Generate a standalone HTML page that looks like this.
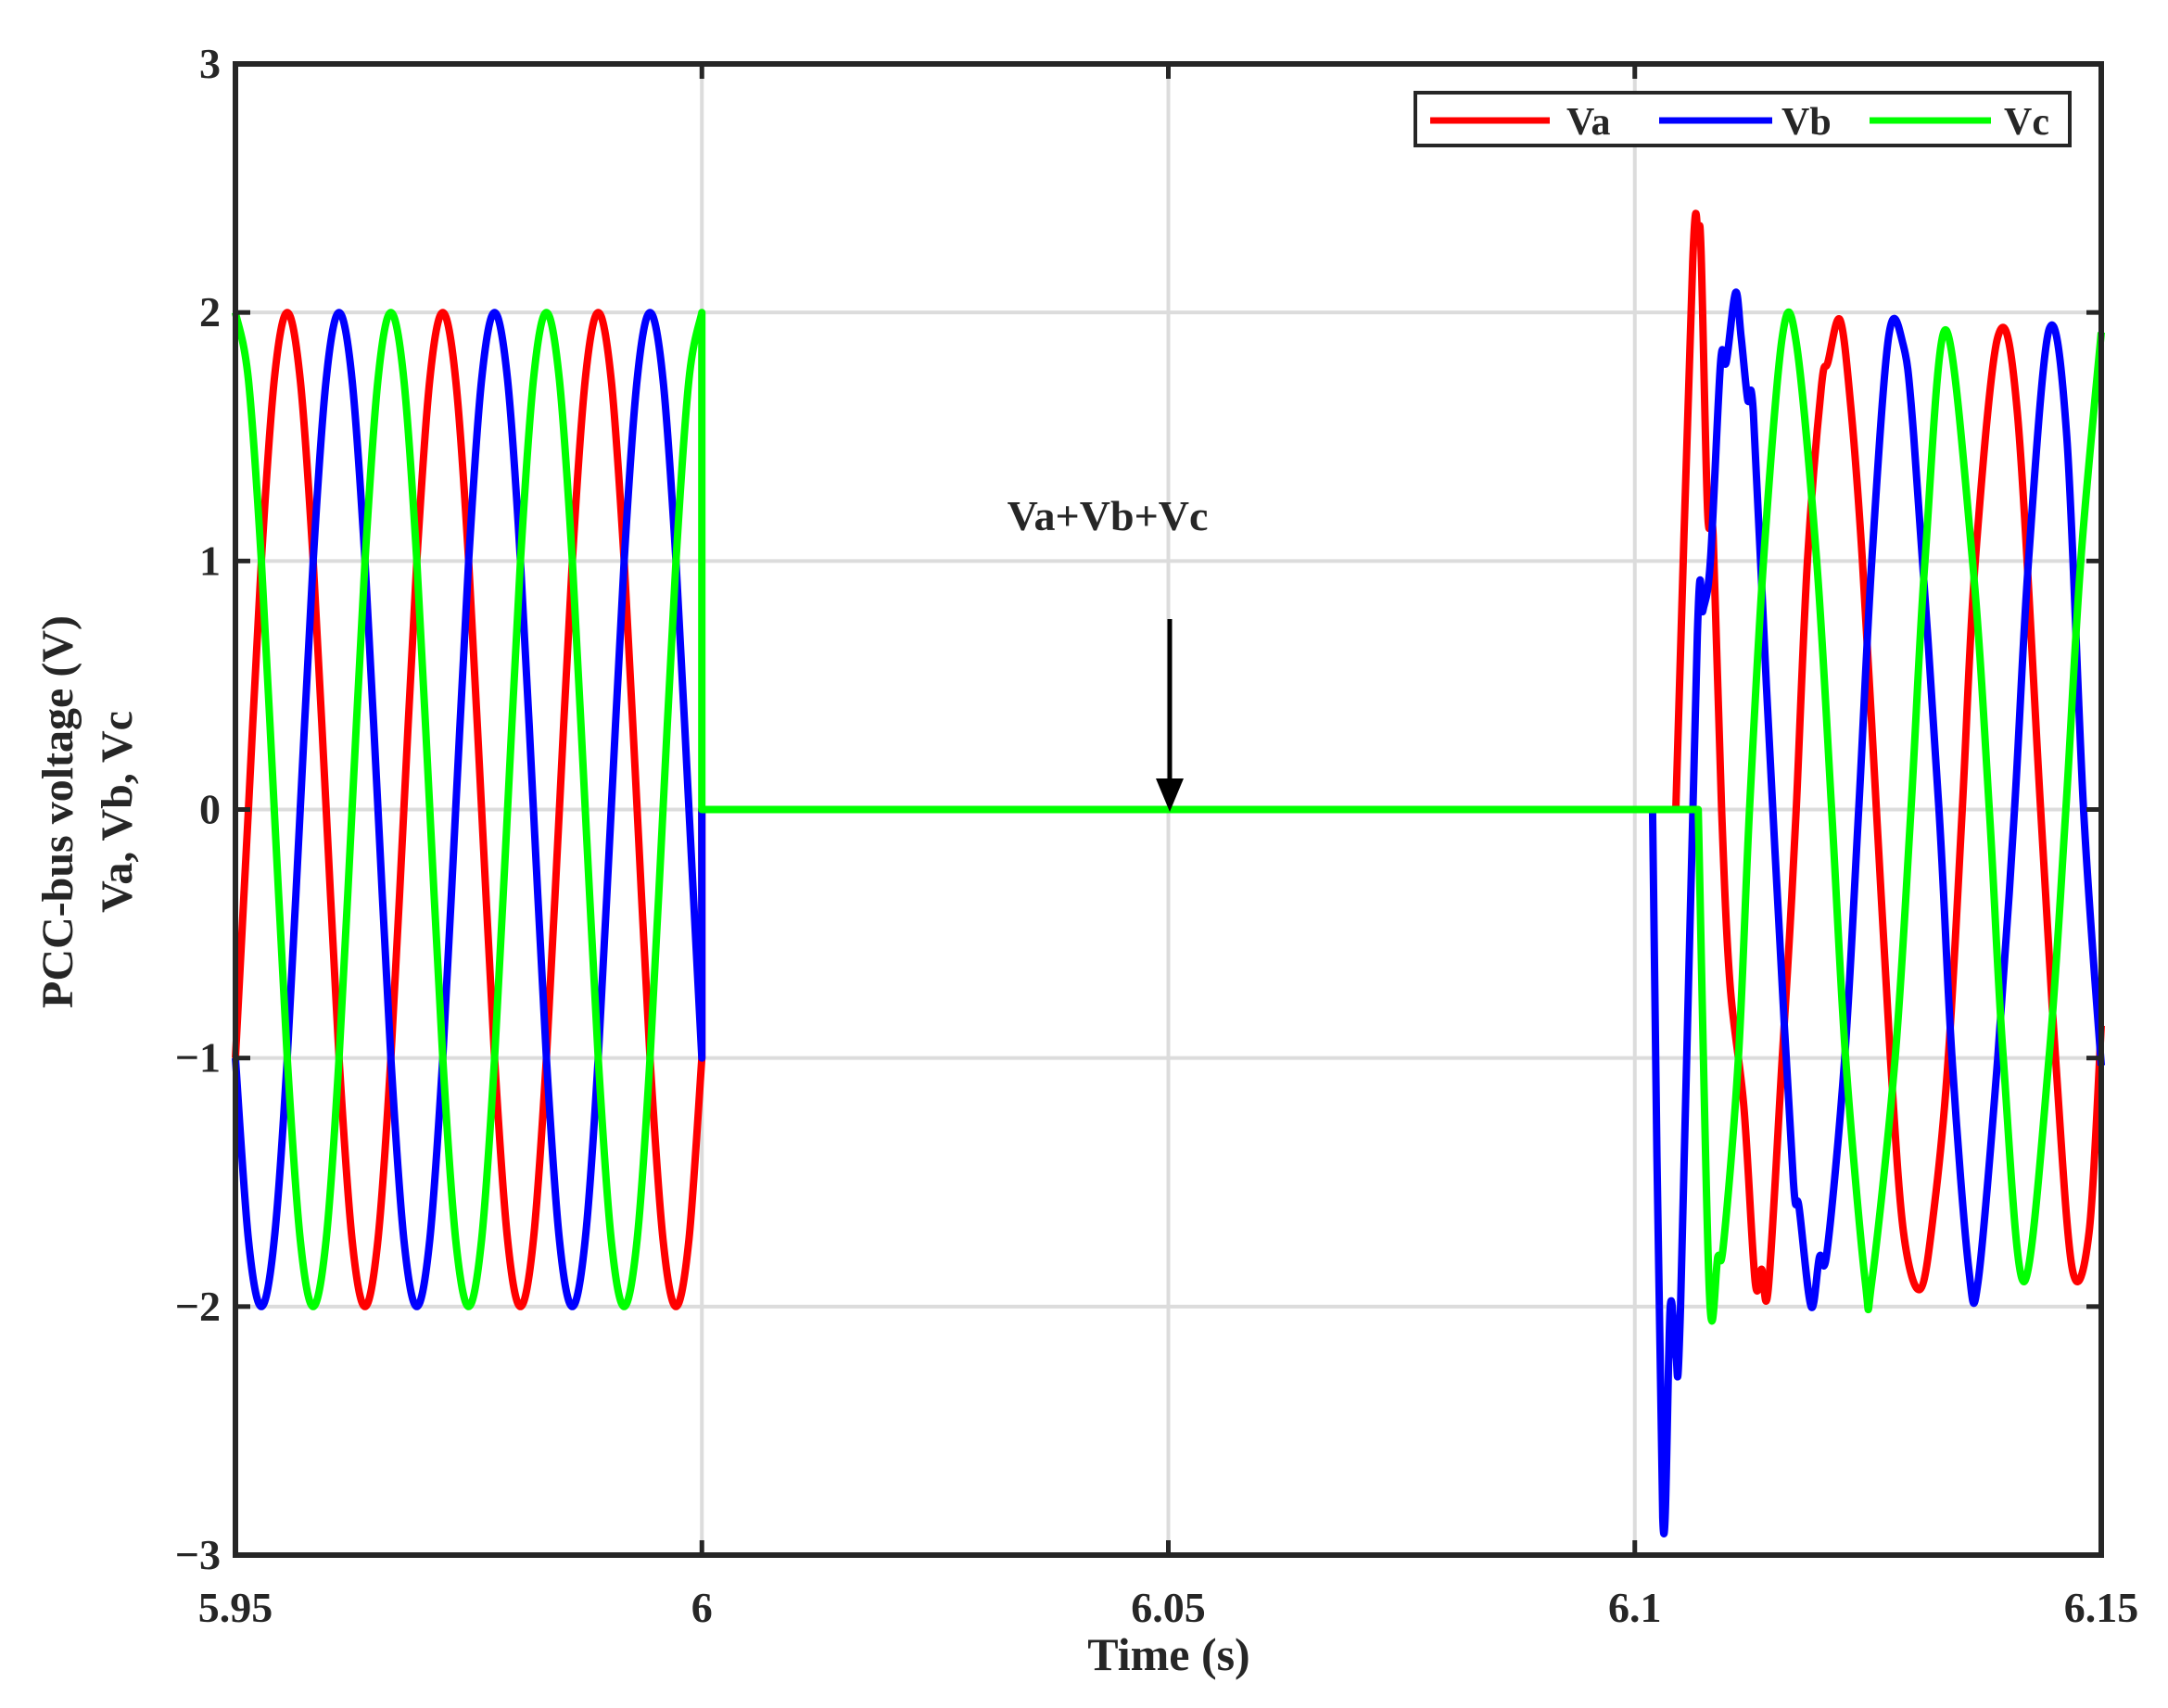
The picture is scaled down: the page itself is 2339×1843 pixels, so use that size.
<!DOCTYPE html>
<html><head><meta charset="utf-8"><style>
html,body{margin:0;padding:0;background:#fff;}
svg{display:block;}
text{font-family:"Liberation Serif",serif;font-weight:bold;fill:#262626;}
</style></head><body>
<svg id="chart" width="2339" height="1843" viewBox="0 0 2339 1843" xmlns="http://www.w3.org/2000/svg">
<g id="grid"></g>
<g id="series"></g>
<g id="axes"></g>
<text x="1261" y="1802" font-size="50" text-anchor="middle">Time (s)</text>
<text transform="translate(78,876) rotate(-90)" font-size="48" text-anchor="middle">PCC-bus voltage (V)</text>
<text transform="translate(142,876) rotate(-90)" font-size="48" text-anchor="middle">Va, Vb, Vc</text>
<text x="1195" y="572" font-size="46" text-anchor="middle">Va+Vb+Vc</text>
<g>
<line x1="1262" y1="668" x2="1262" y2="850" stroke="#000" stroke-width="5"/>
<polygon points="1247,840 1277,840 1262,876" fill="#000"/>
</g>
<g>
<rect x="1527" y="100" width="706" height="57" fill="#fff" stroke="#262626" stroke-width="4"/>
<line x1="1543" y1="130" x2="1672" y2="130" stroke="#ff0000" stroke-width="7"/>
<text x="1690" y="145" font-size="42">Va</text>
<line x1="1790" y1="130" x2="1912" y2="130" stroke="#0000ff" stroke-width="7"/>
<text x="1922" y="145" font-size="42">Vb</text>
<line x1="2017" y1="130" x2="2148" y2="130" stroke="#00ff00" stroke-width="7"/>
<text x="2162" y="145" font-size="42">Vc</text>
</g>
</svg>
<script>
const xTicks=[5.95,6,6.05,6.1,6.15];
const xTickLabels=["5.95","6","6.05","6.1","6.15"];
const yTicks=[-3,-2,-1,0,1,2,3];
const yTickLabels=["\u22123","\u22122","\u22121","0","1","2","3"];
const leftStart=5.95, leftEnd=6.0, leftSteps=36;
const vaLeft=[-1,0,1,1.73,2,1.73,1,0,-1,-1.73,-2,-1.73,-1,0,1,1.73,2,1.73,1,0,-1,-1.73,-2,-1.73,-1,0,1,1.73,2,1.73,1,0,-1,-1.73,-2,-1.73,-1];
const vbLeft=[-1,-1.73,-2,-1.73,-1,0,1,1.73,2,1.73,1,0,-1,-1.73,-2,-1.73,-1,0,1,1.73,2,1.73,1,0,-1,-1.73,-2,-1.73,-1,0,1,1.73,2,1.73,1,0,-1];
const vcLeft=[2,1.73,1,0,-1,-1.73,-2,-1.73,-1,0,1,1.73,2,1.73,1,0,-1,-1.73,-2,-1.73,-1,0,1,1.73,2,1.73,1,0,-1,-1.73,-2,-1.73,-1,0,1,1.73,2];
const vaTimes=[6.0,6.0044,6.1044,6.1062,6.1068,6.1071,6.1078,6.1084,6.1093,6.1102,6.1117,6.1129,6.1136,6.1143,6.1158,6.1166,6.1173,6.1185,6.1200,6.1207,6.1220,6.1232,6.1244,6.1259,6.1274,6.1288,6.1306,6.1321,6.1336,6.1351,6.1365,6.1389,6.1410,6.1435,6.1451,6.1469,6.1487,6.15];
const vaVals=[0,0,0,2.2,2.3,2.25,1.2,1.1,0,-0.7,-1.2,-1.9,-1.85,-1.93,-1,-0.5,0,1,1.7,1.8,1.97,1.6,1,0,-1,-1.7,-1.93,-1.6,-1,0,1,1.9,1.6,0,-1,-1.85,-1.7,-0.87];
const vbTimes=[6.0,6.0044,6.1019,6.1030,6.1038,6.1044,6.1049,6.1067,6.1073,6.1081,6.1092,6.1098,6.1108,6.1114,6.1121,6.1127,6.1141,6.1155,6.1170,6.1176,6.1189,6.1198,6.1206,6.1225,6.1240,6.1254,6.1272,6.1287,6.1299,6.1326,6.1340,6.1358,6.1368,6.1389,6.1407,6.1422,6.1444,6.1463,6.1481,6.15];
const vbVals=[0,0,0,-2.85,-2,-2.2,-2,0.7,0.8,1.0,1.8,1.8,2.08,1.9,1.65,1.6,0.5,-0.5,-1.5,-1.6,-2.0,-1.8,-1.78,-1,0,1,1.9,1.88,1.5,0,-1,-1.85,-1.9,-1,0,1,1.93,1.5,0,-1.03];
const vcTimes=[6.0,6.0044,6.1068,6.1080,6.1089,6.1095,6.1111,6.1123,6.1138,6.1158,6.1173,6.1195,6.1211,6.1226,6.1247,6.1254,6.1279,6.1296,6.1311,6.1333,6.1362,6.1380,6.1395,6.1417,6.1444,6.1462,6.1478,6.15];
const vcVals=[0,0,0,-1.95,-1.8,-1.75,-1,0,1,1.9,1.88,1,0,-1,-1.9,-1.9,-1,0,1,1.93,1,0,-1,-1.9,-1,0,1,1.92];

const L=254,R=2267,T=69,B=1678;
const X=v=>L+(v-5.95)/(6.15-5.95)*(R-L);
const Y=v=>B-(v+3)/6*(B-T);
const NS="http://www.w3.org/2000/svg";
function mk(tag,attrs,parent){const e=document.createElementNS(NS,tag);for(const k in attrs)e.setAttribute(k,attrs[k]);parent.appendChild(e);return e;}
const grid=document.getElementById('grid'),axes=document.getElementById('axes'),series=document.getElementById('series');
xTicks.forEach((v,i)=>{
  const g=mk('line',{x1:X(v),x2:X(v),y1:T,y2:B,stroke:'#dcdcdc','stroke-width':4},grid);
  
  
  mk('line',{x1:X(v),x2:X(v),y1:B,y2:B-16,stroke:'#262626','stroke-width':5},axes);
  mk('line',{x1:X(v),x2:X(v),y1:T,y2:T+16,stroke:'#262626','stroke-width':5},axes);
  const t=mk('text',{x:X(v),y:1750,'font-size':46,'text-anchor':'middle'},axes);
  t.textContent=xTickLabels[i];
  
  
});
yTicks.forEach((v,i)=>{
  const g=mk('line',{x1:L,x2:R,y1:Y(v),y2:Y(v),stroke:'#dcdcdc','stroke-width':4},grid);
  
  
  mk('line',{x1:L,x2:L+16,y1:Y(v),y2:Y(v),stroke:'#262626','stroke-width':5},axes);
  mk('line',{x1:R,x2:R-16,y1:Y(v),y2:Y(v),stroke:'#262626','stroke-width':5},axes);
  const t=mk('text',{x:238,y:Y(v)+15,'font-size':46,'text-anchor':'end'},axes);
  t.textContent=yTickLabels[i];
  
  
});
const frame=mk('rect',{x:L,y:T,width:R-L,height:B-T,fill:'none',stroke:'#262626','stroke-width':6},axes);



function smoothPath(pts){
  let d='M'+pts[0][0].toFixed(1)+','+pts[0][1].toFixed(1);
  for(let i=0;i<pts.length-1;i++){
    const p0=pts[Math.max(0,i-1)],p1=pts[i],p2=pts[i+1],p3=pts[Math.min(pts.length-1,i+2)];
    const c1=[p1[0]+(p2[0]-p0[0])/6,p1[1]+(p2[1]-p0[1])/6];
    const c2=[p2[0]-(p3[0]-p1[0])/6,p2[1]-(p3[1]-p1[1])/6];
    d+=' C'+c1[0].toFixed(1)+','+c1[1].toFixed(1)+' '+c2[0].toFixed(1)+','+c2[1].toFixed(1)+' '+p2[0].toFixed(1)+','+p2[1].toFixed(1);
  }
  return d;
}
function linePath(pts){return pts.map((p,i)=>(i?'L':'M')+p[0].toFixed(1)+','+p[1].toFixed(1)).join(' ');}
function draw(leftVals,times,vals,color,name){
  const lp=leftVals.map((v,i)=>[X(leftStart+(leftEnd-leftStart)*i/leftSteps),Y(v)]);
  const rp=times.map((t,i)=>[X(t),Y(vals[i])]);
  const p=mk('path',{d:smoothPath(lp)+' '+linePath([lp[lp.length-1],...rp.slice(0,3)]).replace('M','L')+' '+smoothPath(rp.slice(2)).replace('M','L'),fill:'none',stroke:color,'stroke-width':8,'stroke-linejoin':'round'},series);
  
  
}
draw(vaLeft,vaTimes,vaVals,'#ff0000','series-va');
draw(vbLeft,vbTimes,vbVals,'#0000ff','series-vb');
draw(vcLeft,vcTimes,vcVals,'#00ff00','series-vc');
</script>
</body></html>
